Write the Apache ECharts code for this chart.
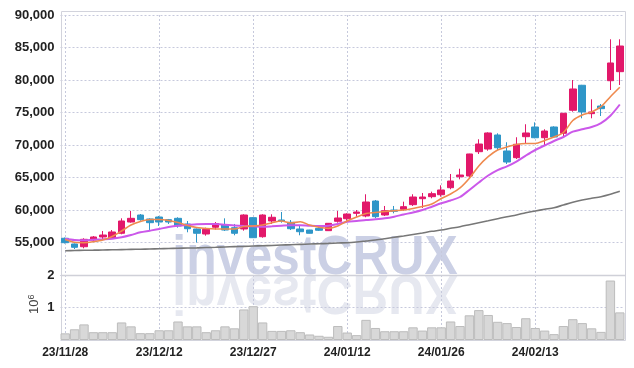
<!DOCTYPE html>
<html><head><meta charset="utf-8">
<script src="https://cdn.jsdelivr.net/npm/echarts@6/dist/echarts.min.js"></script>
<style>html,body{margin:0;padding:0;background:#fff}#c{width:634px;height:368px}</style>
</head><body><div id="c"></div>
<script>
const dates = ['23/11/28','23/11/29','23/11/30','23/12/01','23/12/04','23/12/05','23/12/06','23/12/07','23/12/08','23/12/11',
'23/12/12','23/12/13','23/12/14','23/12/15','23/12/18','23/12/19','23/12/20','23/12/21','23/12/22','23/12/26',
'23/12/27','23/12/28','24/01/02','24/01/03','24/01/04','24/01/05','24/01/08','24/01/09','24/01/10','24/01/11',
'24/01/12','24/01/15','24/01/16','24/01/17','24/01/18','24/01/19','24/01/22','24/01/23','24/01/24','24/01/25',
'24/01/26','24/01/29','24/01/30','24/01/31','24/02/01','24/02/02','24/02/05','24/02/06','24/02/07','24/02/08',
'24/02/13','24/02/14','24/02/15','24/02/16','24/02/19','24/02/20','24/02/21','24/02/22','24/02/23','24/02/26'];
const opens = [55650,54770,54350,55390,55850,55690,56420,58150,59230,58620,58920,58510,58720,57850,57080,56310,57350,57690,57280,57080,
58820,55890,58310,58460,58110,57080,56920,57180,56820,58260,58660,59490,59080,61380,59230,60000,60110,60820,61740,62050,
62350,63430,65120,65230,68970,69380,71540,69080,68050,71280,72770,71120,72770,71800,75340,79190,74820,76000,79890,81280];
const closes = [54970,54260,55490,55850,56150,56620,58310,58720,58510,58050,58150,58150,57540,57120,56420,57030,57920,56920,56420,59230,
55740,59230,58880,58310,57120,56660,56420,56880,57950,58770,59380,59690,61230,58970,59890,59800,60510,62000,62000,62510,
63080,64460,65380,68620,70150,71850,69580,67380,70110,71850,71120,72150,71230,74880,78620,75080,75080,75590,82620,85230];
const lows = [54850,54000,54110,55230,55390,55620,56260,58050,58350,56920,57540,57850,57280,56570,55000,56050,57000,56770,56110,56820,
55700,55740,57850,58050,56920,56110,56400,56770,56770,58050,58350,58970,58880,58720,59080,59490,59890,60620,60310,61800,
62050,63190,64720,64880,68620,69120,69230,67080,67850,70260,71030,69850,71120,71190,75120,74110,74110,74460,78460,79230];
const highs = [55770,54850,55650,56000,56770,56920,58720,59850,59380,58720,59080,58620,58880,58310,57150,57280,58150,58720,57850,59340,
58900,59340,59340,59690,58460,57690,56950,57430,58000,59850,59490,60000,62420,61540,60620,60620,61280,62420,62620,62820,
63800,65540,66350,68650,70880,71950,71800,70420,71190,73190,73490,72420,72880,74900,80000,79250,77030,76310,86260,86260];
const maShort = [55460,55030,54970,55120,55380,55920,56770,57690,58230,58540,58540,58380,58080,57620,57310,57150,57080,57080,57080,57460,
57540,57690,58050,58310,58000,58200,57690,57340,57180,57540,58310,58920,59460,59620,59770,59890,60000,60230,60540,60920,
61770,62460,63390,64880,66770,68200,69230,69690,70080,70230,70230,70690,71230,71920,73770,74620,75080,75890,77430,78880];
const maMid = [55580,55380,55340,55430,55490,55580,55800,56150,56570,56820,57080,57380,57580,57690,57800,57850,57850,57740,57620,57540,
57490,57430,57490,57580,57650,57650,57580,57540,57580,57850,58200,58310,58460,58570,58720,58970,59310,59620,60000,60510,
61030,61460,62000,63080,64230,65310,66150,66720,67460,68380,69230,69920,70620,71230,72050,72420,72770,73380,74510,76230];
const maLong = [53740,53770,53800,53820,53850,53880,53910,53940,53970,54000,54040,54070,54110,54150,54180,54220,54260,54310,54360,54400,
54450,54500,54550,54610,54660,54710,54760,54810,54860,54920,54970,55080,55230,55380,55580,55800,56000,56230,56460,56720,
56920,57180,57430,57740,58050,58350,58660,58970,59230,59590,59850,60110,60350,60770,61190,61540,61800,62050,62420,62880];
const volumes = [205000,330000,480000,240000,240000,240000,540000,420000,210000,210000,300000,300000,570000,420000,420000,240000,300000,420000,360000,940000,
1040000,540000,280000,280000,300000,240000,170000,130000,100000,430000,230000,150000,620000,370000,270000,270000,270000,390000,290000,390000,
390000,570000,430000,760000,920000,770000,560000,520000,400000,670000,370000,290000,180000,430000,640000,520000,360000,250000,1830000,850000];
const priceTicks = {min: 50000, max: 90000, step: 5000};
const volTicks = {min: 0, max: 2000000, step: 1000000};

const UP = '#e2186a', DOWN = '#2f96c8';
const FONT = "'Liberation Sans','Arial',sans-serif";
const GRID_LINE = {color: '#c6c9dc', type: [2, 2], width: 1};
const candleData = dates.map((d, i) => [opens[i], closes[i], lows[i], highs[i]]);
const labelStyle = {color: '#222', fontFamily: FONT, fontWeight: 'bold'};

const chart = echarts.init(document.getElementById('c'), null, {renderer: 'canvas'});
chart.setOption({
  animation: false,
  backgroundColor: '#fff',
  grid: [
    {left: 60.5, width: 564, top: 15, height: 260},
    {left: 60.5, width: 564, top: 275, height: 65}
  ],
  xAxis: [
    {type: 'category', data: dates, gridIndex: 0, boundaryGap: true,
     axisLine: {show: false}, axisTick: {show: false}, axisLabel: {show: false},
     splitLine: {show: true, interval: 9, alignWithLabel: true, lineStyle: GRID_LINE}},
    {type: 'category', data: dates, gridIndex: 1, boundaryGap: true,
     axisLine: {show: false}, axisTick: {show: false},
     axisLabel: Object.assign({interval: 9, fontSize: 12, margin: 7}, labelStyle),
     splitLine: {show: true, interval: 9, alignWithLabel: true, lineStyle: GRID_LINE}}
  ],
  yAxis: [
    {type: 'value', gridIndex: 0, min: priceTicks.min, max: priceTicks.max, interval: priceTicks.step,
     axisLine: {show: false}, axisTick: {show: false},
     axisLabel: Object.assign({showMinLabel: false, fontSize: 13, margin: 6,
       formatter: v => v.toLocaleString('en-US')}, labelStyle),
     splitLine: {show: true, lineStyle: GRID_LINE}},
    {type: 'value', gridIndex: 1, min: volTicks.min, max: volTicks.max, interval: volTicks.step,
     axisLine: {show: false}, axisTick: {show: false},
     axisLabel: Object.assign({showMinLabel: false, fontSize: 13, margin: 6,
       formatter: v => String(v / 1000000)}, labelStyle),
     splitLine: {show: true, lineStyle: GRID_LINE}}
  ],
  graphic: [
    {type: 'text', z: 0, x: 315, y: 287, scaleX: 0.89, silent: true,
     style: {text: 'investCRUX', fontFamily: FONT, fontSize: 56, fontWeight: 'bold',
       fill: '#cbd0e5', textAlign: 'center', textVerticalAlign: 'bottom'}},
    {type: 'text', z: 0, x: 315, y: 263, scaleX: 0.89, scaleY: -1, silent: true,
     style: {text: 'investCRUX', fontFamily: FONT, fontSize: 56, fontWeight: 'bold',
       fill: '#e6e8f0', textAlign: 'center', textVerticalAlign: 'bottom'}},
    {type: 'rect', z: 1, silent: true, shape: {x: 61.5, y: 11.5, width: 564, height: 329},
     style: {fill: null, stroke: '#d2d3dc', lineWidth: 1}},
    {type: 'line', z: 1, silent: true, shape: {x1: 61.5, y1: 275.5, x2: 625.5, y2: 275.5},
     style: {stroke: '#cfd0d8', lineWidth: 1.5}},
    {type: 'text', z: 5, x: 27, y: 314, rotation: Math.PI / 2, silent: true,
     style: {text: '10{s|6}', fontFamily: "'Liberation Sans','DejaVu Sans',sans-serif", fontSize: 13, fill: '#444',
       textVerticalAlign: 'top',
       rich: {s: {fontSize: 9, fill: '#444', verticalAlign: 'top', padding: [0, 0, 6, 0]}}}}
  ],
  series: [
    {type: 'bar', xAxisIndex: 1, yAxisIndex: 1, data: volumes, barWidth: '100%', barCategoryGap: '0%',
     itemStyle: {color: '#d8d8d8', borderColor: '#bcbcbc', borderWidth: 1}},
    {type: 'candlestick', xAxisIndex: 0, yAxisIndex: 0, data: candleData, barWidth: 7,
     itemStyle: {color: UP, color0: DOWN, borderColor: UP, borderColor0: DOWN, borderWidth: 1}},
    {type: 'line', data: maLong, showSymbol: false, smooth: 0.3, lineStyle: {color: '#777', width: 1.6}},
    {type: 'line', data: maMid, showSymbol: false, smooth: 0.3, lineStyle: {color: '#cb58ea', width: 2}},
    {type: 'line', data: maShort, showSymbol: false, smooth: 0.3, lineStyle: {color: '#ef8a4e', width: 1.6}}
  ]
});
</script></body></html>
